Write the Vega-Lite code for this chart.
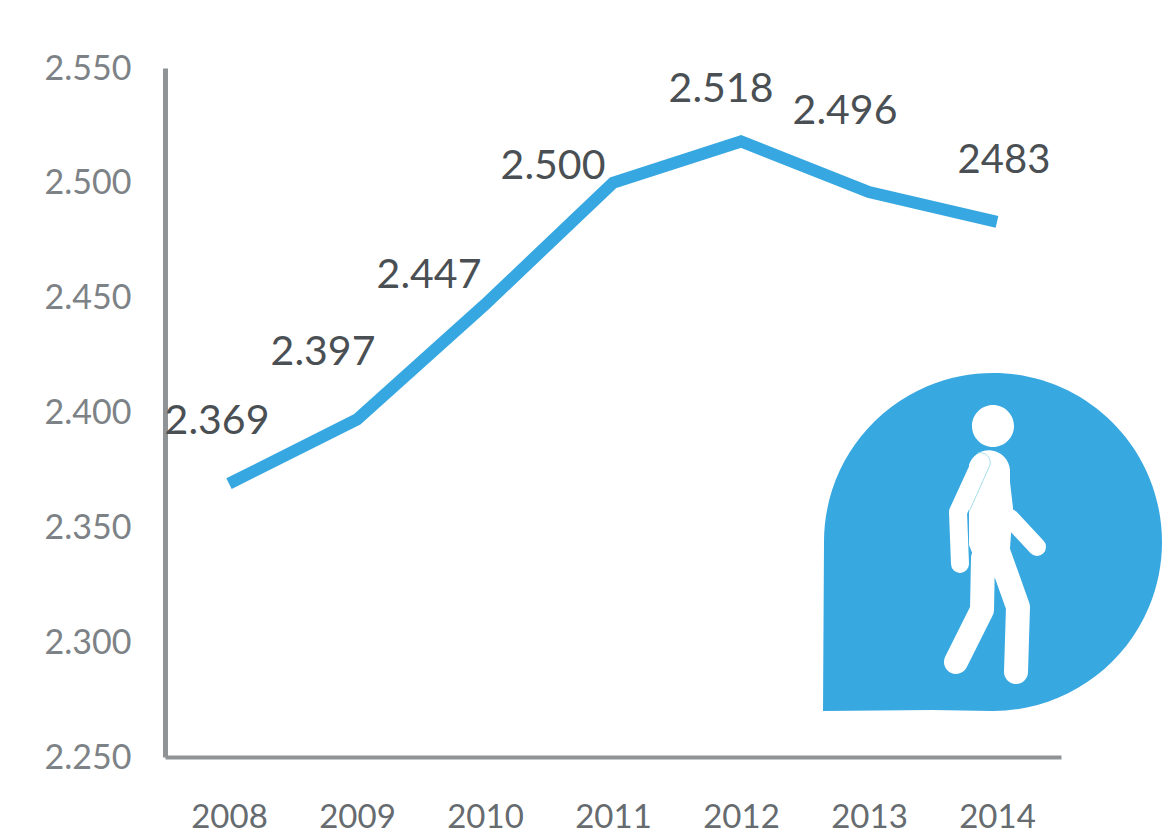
{
  "$schema": "https://vega.github.io/schema/vega-lite/v6.json",
  "width": 896,
  "height": 689,
  "autosize": "none",
  "padding": {"left": 165, "top": 68, "right": 111, "bottom": 78},
  "background": "#ffffff",
  "view": {"stroke": null},
  "config": {"font": "Lato"},
  "datasets": {
    "visits": [
      {"year": "2008", "value": 2.369, "label": "2.369"},
      {"year": "2009", "value": 2.397, "label": "2.397"},
      {"year": "2010", "value": 2.447, "label": "2.447"},
      {"year": "2011", "value": 2.5, "label": "2.500"},
      {"year": "2012", "value": 2.518, "label": "2.518"},
      {"year": "2013", "value": 2.496, "label": "2.496"},
      {"year": "2014", "value": 2.483, "label": "2483"}
    ],
    "badge": [{"year": "2014", "value": 2.3432}]
  },
  "data": {"name": "visits"},
  "encoding": {
    "x": {
      "field": "year",
      "type": "ordinal",
      "scale": {"paddingInner": 0, "paddingOuter": 0},
      "axis": {
        "title": null,
        "labelAngle": 0,
        "ticks": false,
        "grid": false,
        "domainColor": "#8f9396",
        "domainWidth": 4,
        "labelColor": "#666b6f",
        "labelFontSize": 33,
        "labelPadding": 44
      }
    },
    "y": {
      "field": "value",
      "type": "quantitative",
      "scale": {"domain": [2.25, 2.55], "nice": false, "zero": false},
      "axis": {
        "title": null,
        "values": [2.25, 2.3, 2.35, 2.4, 2.45, 2.5, 2.55],
        "format": ".3f",
        "ticks": false,
        "grid": false,
        "domainColor": "#8f9396",
        "domainWidth": 5,
        "labelColor": "#7d8286",
        "labelFontSize": 34,
        "labelPadding": 34,
        "labelOffset": 1
      }
    }
  },
  "layer": [
    {
      "mark": {"type": "line", "color": "#36a7e0", "strokeWidth": 12, "strokeJoin": "miter", "strokeCap": "butt"}
    },
    {
      "transform": [{"filter": "datum.year === '2008'"}],
      "mark": {"type": "text", "fontSize": 41, "color": "#4a4f53", "dx": -12, "dy": -62},
      "encoding": {"text": {"field": "label"}}
    },
    {
      "transform": [{"filter": "datum.year === '2009'"}],
      "mark": {"type": "text", "fontSize": 41, "color": "#4a4f53", "dx": -34, "dy": -66},
      "encoding": {"text": {"field": "label"}}
    },
    {
      "transform": [{"filter": "datum.year === '2010'"}],
      "mark": {"type": "text", "fontSize": 41, "color": "#4a4f53", "dx": -56, "dy": -29},
      "encoding": {"text": {"field": "label"}}
    },
    {
      "transform": [{"filter": "datum.year === '2011'"}],
      "mark": {"type": "text", "fontSize": 41, "color": "#4a4f53", "dx": -60, "dy": -16},
      "encoding": {"text": {"field": "label"}}
    },
    {
      "transform": [{"filter": "datum.year === '2012'"}],
      "mark": {"type": "text", "fontSize": 41, "color": "#4a4f53", "dx": -20, "dy": -51},
      "encoding": {"text": {"field": "label"}}
    },
    {
      "transform": [{"filter": "datum.year === '2013'"}],
      "mark": {"type": "text", "fontSize": 41, "color": "#4a4f53", "dx": -24, "dy": -80},
      "encoding": {"text": {"field": "label"}}
    },
    {
      "transform": [{"filter": "datum.year === '2014'"}],
      "mark": {"type": "text", "fontSize": 40, "color": "#4a4f53", "dx": 7, "dy": -61},
      "encoding": {"text": {"field": "label"}}
    },
    {
      "data": {"name": "badge"},
      "mark": {
        "type": "point",
        "filled": true,
        "opacity": 1,
        "size": 4,
        "xOffset": -5,
        "color": "#38a8e1",
        "shape": "M-169 168L-168 0A169 169 0 1 1 0 168L-60 167Z"
      }
    },
    {
      "data": {"name": "badge"},
      "mark": {
        "type": "point",
        "filled": true,
        "opacity": 1,
        "size": 4,
        "xOffset": -5,
        "color": "#ffffff",
        "shape": "M22 -117A21 21 0 1 1 -20 -117A21 21 0 1 1 22 -117ZM-23 -78A21 21 0 0 1 18 -73L18 -61L21 -35L18 5L-19 12L-23 2L-23 -31Z"
      }
    },
    {
      "data": {"name": "badge"},
      "mark": {
        "type": "point",
        "filled": false,
        "opacity": 1,
        "size": 4,
        "xOffset": -5,
        "color": "#ffffff",
        "strokeWidth": 18,
        "strokeCap": "round",
        "strokeJoin": "round",
        "shape": "M-12 -79L-34 -31L-32 21M18 -25L45 4"
      }
    },
    {
      "data": {"name": "badge"},
      "mark": {
        "type": "point",
        "filled": false,
        "opacity": 1,
        "size": 4,
        "xOffset": -5,
        "color": "#ffffff",
        "strokeWidth": 24,
        "strokeCap": "round",
        "strokeJoin": "round",
        "shape": "M-9 15L-10 67L-36 119M5 5L26 64L24 129"
      }
    },
    {
      "data": {"name": "badge"},
      "mark": {
        "type": "point",
        "filled": false,
        "opacity": 1,
        "size": 4,
        "xOffset": -5,
        "color": "#8fd6e4",
        "strokeWidth": 0.8,
        "shape": "M-23 -31L-2 -78A10 10 0 0 0 -14 -90"
      }
    }
  ]
}
